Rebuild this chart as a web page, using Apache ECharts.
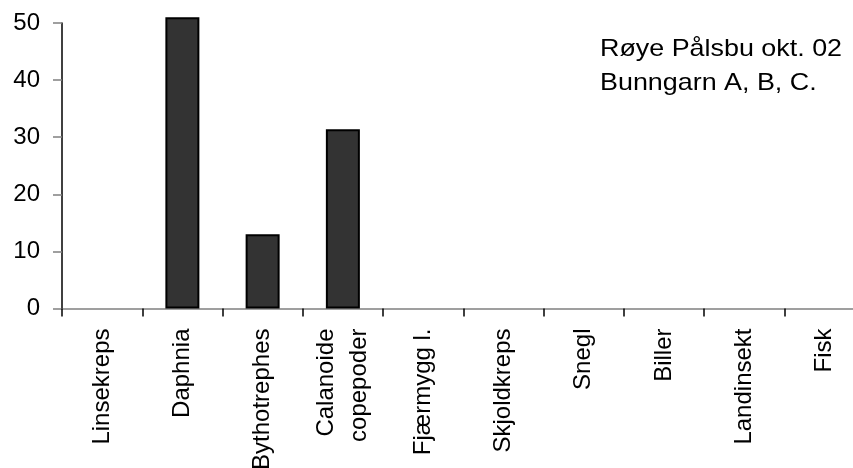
<!DOCTYPE html>
<html>
<head>
<meta charset="utf-8">
<script src="https://cdn.jsdelivr.net/npm/echarts@6/dist/echarts.min.js"></script>
<style>
html,body{margin:0;padding:0;background:#fff;}
#c{width:853px;height:468px;}
</style>
</head>
<body>
<div id="c"></div>
<script>
var categories = ['Linsekreps', 'Daphnia', 'Bythotrephes', 'Calanoide\ncopepoder', 'Fjærmygg l.', 'Skjoldkreps', 'Snegl', 'Biller', 'Landinsekt', 'Fisk'];
var values = [0, 51, 13, 31.4, 0, 0, 0, 0, 0, 0];
var yTicks = [0, 10, 20, 30, 40, 50];
var titleLines = ['Røye Pålsbu okt. 02', 'Bunngarn A, B, C.'];

var FONT = '"Liberation Sans", Arial, sans-serif';
var chart = echarts.init(document.getElementById('c'), null, {renderer: 'canvas'});
chart.setOption({
  animation: false,
  backgroundColor: '#ffffff',
  graphic: [{
    type: 'text',
    x: 600,
    y: 33,
    scaleX: 1.12,
    style: {
      text: titleLines.join('\n'),
      fontFamily: FONT, fontSize: 24, fill: '#000', lineHeight: 33.5,
      verticalAlign: 'top', align: 'left'
    }
  }],
  grid: {left: 62, top: 23, bottom: 159.5, right: -11.5, containLabel: false, outerBoundsMode: 'none'},
  xAxis: {
    type: 'category',
    data: categories,
    boundaryGap: true,
    axisLine: {lineStyle: {color: '#808080', width: 1.5}},
    axisTick: {show: true, alignWithLabel: false, length: 8, lineStyle: {color: '#000', width: 1.5}},
    axisLabel: {rotate: 90, interval: 0, margin: 20, fontFamily: FONT, fontSize: 24, color: '#000', lineHeight: 33},
    splitLine: {show: false}
  },
  yAxis: {
    type: 'value',
    min: yTicks[0],
    max: yTicks[yTicks.length - 1],
    interval: 10,
    axisLine: {show: true, lineStyle: {color: '#000', width: 1.5}},
    axisTick: {show: true, length: 9, lineStyle: {color: '#808080', width: 1.5}},
    axisLabel: {margin: 22, fontFamily: FONT, fontSize: 24, color: '#000'},
    splitLine: {show: false}
  },
  series: [{
    type: 'bar',
    data: values.map(function (v) { return v === 0 ? '-' : v; }),
    barWidth: 34,
    clip: false,
    itemStyle: {color: '#333333', borderColor: '#000000', borderWidth: 2}
  }]
});
</script>
</body>
</html>
